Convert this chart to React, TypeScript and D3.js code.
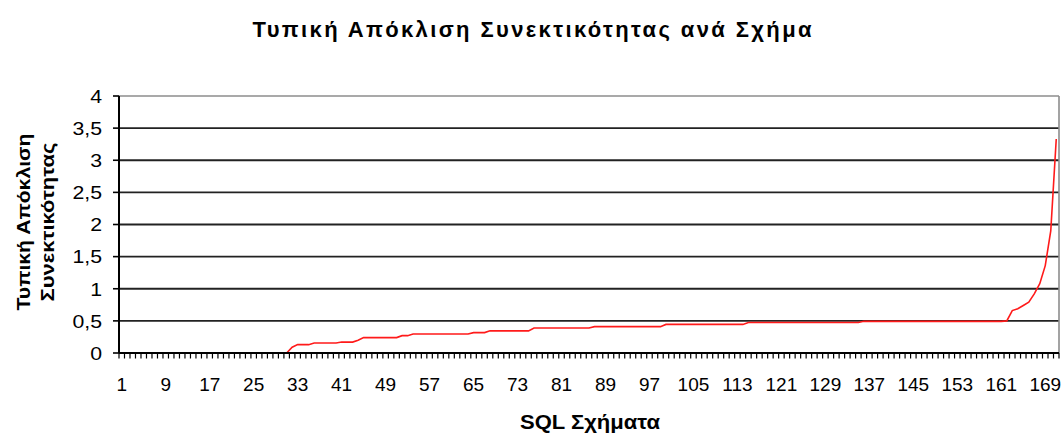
import React from "react";
import * as d3 from "d3";

const TITLE = "Τυπική Απόκλιση Συνεκτικότητας ανά Σχήμα";
const Y_TITLE_1 = "Τυπική Απόκλιση";
const Y_TITLE_2 = "Συνεκτικότητας";
const X_TITLE = "SQL Σχήματα";

const values: number[] = [
  0, 0, 0, 0, 0, 0, 0, 0, 0, 0,
  0, 0, 0, 0, 0, 0, 0, 0, 0, 0,
  0, 0, 0, 0, 0, 0, 0, 0, 0, 0,
  0, 0.09, 0.13, 0.13, 0.13, 0.155, 0.155, 0.155, 0.155, 0.155,
  0.17, 0.17, 0.17, 0.2, 0.24, 0.24, 0.24, 0.24, 0.24, 0.24,
  0.24, 0.27, 0.27, 0.295, 0.295, 0.295, 0.295, 0.295, 0.295, 0.295,
  0.295, 0.295, 0.295, 0.295, 0.317, 0.317, 0.317, 0.345, 0.345, 0.345,
  0.345, 0.345, 0.345, 0.345, 0.345, 0.39, 0.39, 0.39, 0.39, 0.39,
  0.39, 0.39, 0.39, 0.39, 0.39, 0.39, 0.41, 0.41, 0.41, 0.41,
  0.41, 0.41, 0.41, 0.41, 0.41, 0.41, 0.41, 0.41, 0.41, 0.445,
  0.445, 0.445, 0.445, 0.445, 0.445, 0.445, 0.445, 0.445, 0.445, 0.445,
  0.445, 0.445, 0.445, 0.445, 0.475, 0.475, 0.475, 0.475, 0.475, 0.475,
  0.475, 0.475, 0.475, 0.475, 0.475, 0.475, 0.475, 0.475, 0.475, 0.475,
  0.475, 0.475, 0.475, 0.475, 0.475, 0.493, 0.493, 0.493, 0.493, 0.493,
  0.493, 0.493, 0.493, 0.493, 0.493, 0.493, 0.493, 0.493, 0.493, 0.493,
  0.493, 0.493, 0.493, 0.493, 0.493, 0.493, 0.493, 0.493, 0.493, 0.493,
  0.493, 0.5, 0.66, 0.69, 0.74, 0.79, 0.92, 1.08, 1.36, 1.9,
  3.33,
];

const categories: number[] = values.map((_, i) => i + 1);

const xTickLabels: number[] = [1, 9, 17, 25, 33, 41, 49, 57, 65, 73, 81, 89, 97, 105, 113, 121, 129, 137, 145, 153, 161, 169];
const yTicks: number[] = [0, 0.5, 1, 1.5, 2, 2.5, 3, 3.5, 4];
const yTickLabels: string[] = ["0", "0,5", "1", "1,5", "2", "2,5", "3", "3,5", "4"];

const W = 1064;
const H = 437;
const M = { left: 119, right: 1059, top: 96, bottom: 353 };
const FONT = "'Liberation Sans', Arial, sans-serif";

export default function App() {
  const x = d3.scaleBand<number>().domain(categories).range([M.left, M.right]).padding(0);
  const y = d3.scaleLinear().domain([0, 4]).range([M.bottom, M.top]);
  const bw = x.bandwidth();
  const cx = (c: number) => (x(c) as number) + bw / 2;

  const line = d3
    .line<number>()
    .x((_, i) => cx(categories[i]))
    .y((d) => y(d));

  const boundaries = categories.map((c) => x(c) as number).concat([M.right]);

  return (
    <svg width={W} height={H} style={{ position: "absolute", left: 0, top: 0, background: "#fff" }}>
      <rect x={0} y={0} width={W} height={H} fill="#fff" />
      {/* gridlines */}
      {yTicks
        .filter((t) => t > 0 && t < 4)
        .map((t) => (
          <line key={"g" + t} x1={M.left} x2={M.right} y1={y(t)} y2={y(t)} stroke="#222" strokeWidth={1.8} />
        ))}
      {/* plot border top/right */}
      <line x1={M.left} x2={M.right} y1={y(4)} y2={y(4)} stroke="#8c8c8c" strokeWidth={1.6} />
      <line x1={M.right} x2={M.right} y1={y(4)} y2={M.bottom} stroke="#8c8c8c" strokeWidth={1.6} />
      {/* series */}
      <path d={line(values) || ""} fill="none" stroke="#ff1a1a" strokeWidth={1.6} />
      {/* axes */}
      <line x1={M.left} x2={M.left} y1={y(4)} y2={M.bottom} stroke="#000" strokeWidth={2} />
      <line x1={M.left} x2={M.right} y1={M.bottom} y2={M.bottom} stroke="#000" strokeWidth={2} />
      {yTicks.map((t) => (
        <line key={"yt" + t} x1={M.left - 6} x2={M.left} y1={y(t)} y2={y(t)} stroke="#000" strokeWidth={1.6} />
      ))}
      {boundaries.map((b, i) => (
        <line key={"xt" + i} x1={b} x2={b} y1={M.bottom} y2={M.bottom + 5.5} stroke="#000" strokeWidth={1.2} />
      ))}
      {/* y tick labels */}
      {yTicks.map((t, i) => (
        <text
          key={"yl" + t}
          transform={`translate(102,${y(t)}) scale(1.12,1)`}
          dy="0.36em"
          textAnchor="end"
          fontFamily={FONT}
          fontSize={19}
          fill="#000"
        >
          {yTickLabels[i]}
        </text>
      ))}
      {/* x tick labels */}
      {xTickLabels.map((c) => (
        <text key={"xl" + c} x={cx(c)} y={390.5} textAnchor="middle" fontFamily={FONT} fontSize={19} fill="#000">
          {c}
        </text>
      ))}
      {/* titles */}
      <text x={532} y={37} textAnchor="middle" fontFamily={FONT} fontSize={22} fontWeight="bold" textLength={559} lengthAdjust="spacing">
        {TITLE}
      </text>
      <text x={590} y={428.5} textAnchor="middle" fontFamily={FONT} fontSize={19.5} fontWeight="bold" textLength={140} lengthAdjust="spacingAndGlyphs">
        {X_TITLE}
      </text>
      <text transform={`translate(29.5,222) rotate(-90)`} textAnchor="middle" fontFamily={FONT} fontSize={18.5} fontWeight="bold" textLength={177} lengthAdjust="spacingAndGlyphs">
        {Y_TITLE_1}
      </text>
      <text transform={`translate(54,222) rotate(-90)`} textAnchor="middle" fontFamily={FONT} fontSize={18.5} fontWeight="bold" textLength={159} lengthAdjust="spacingAndGlyphs">
        {Y_TITLE_2}
      </text>
    </svg>
  );
}
